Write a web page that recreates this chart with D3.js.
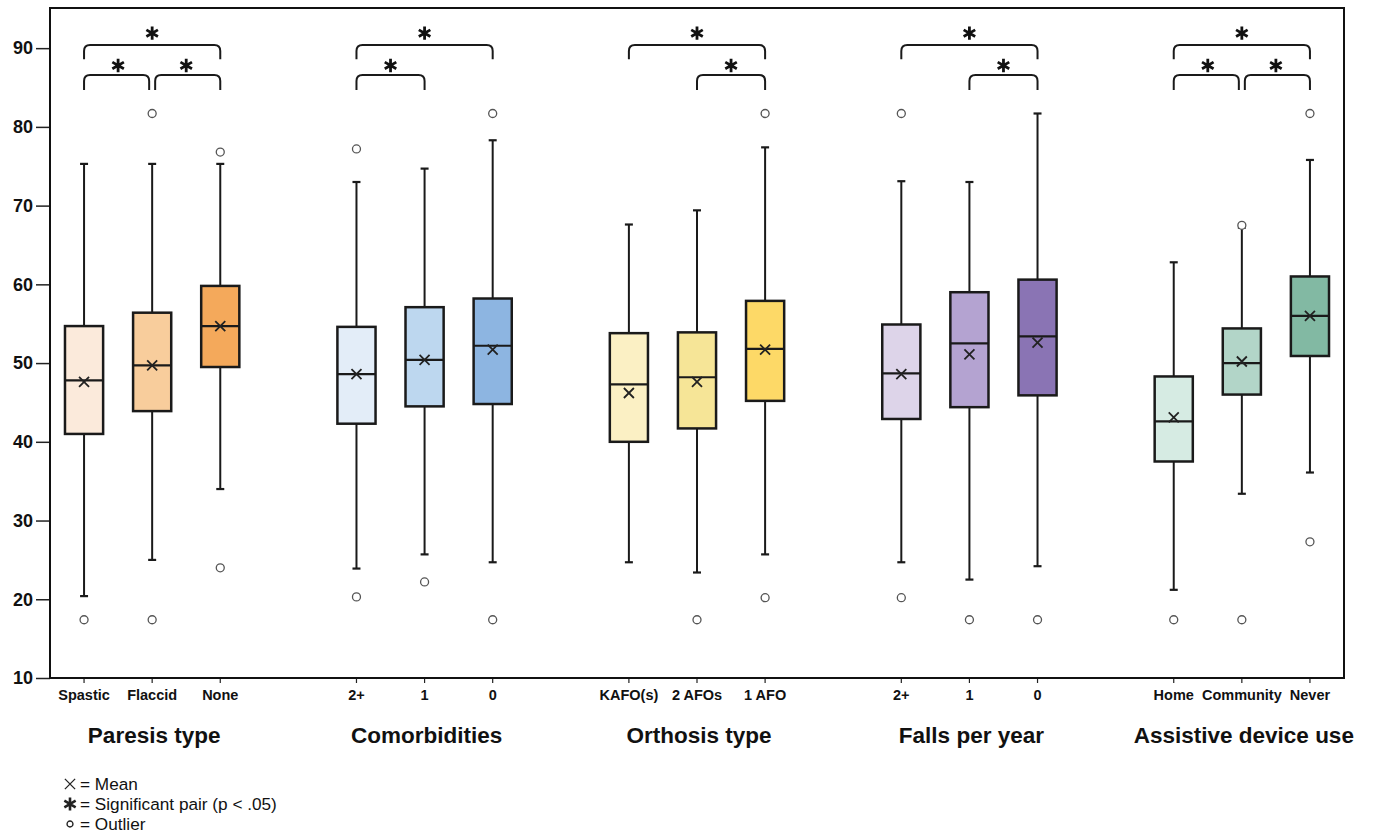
<!DOCTYPE html>
<html>
<head>
<meta charset="utf-8">
<script src="https://cdn.jsdelivr.net/npm/d3@7"></script>
<style>
    body { margin: 0; background: #fff; }
    svg { font-family: Arial, "Liberation Sans", sans-serif; }
</style>
</head>
<body>
<div id="chart"></div>
<script>
// groups and the categories inside them
var groups = ['Paresis type', 'Comorbidities', 'Orthosis type', 'Falls per year', 'Assistive device use'];
var categories = ['Spastic', 'Flaccid', 'None', '2+', '1', '0', 'KAFO(s)', '2 AFOs', '1 AFO', '2+', '1', '0', 'Home', 'Community', 'Never'];
var groupIndex = [0, 0, 0, 1, 1, 1, 2, 2, 2, 3, 3, 3, 4, 4, 4];

// box statistics
var whiskerLow  = [20.4, 25.0, 34.0, 23.9, 25.7, 24.7, 24.7, 23.4, 25.7, 24.7, 22.5, 24.2, 21.2, 33.4, 36.1];
var q1          = [41.0, 43.9, 49.5, 42.3, 44.5, 44.8, 40.0, 41.7, 45.2, 42.9, 44.4, 45.9, 37.5, 46.0, 50.9];
var median      = [47.8, 49.7, 54.7, 48.6, 50.4, 52.2, 47.3, 48.2, 51.8, 48.7, 52.5, 53.4, 42.6, 50.0, 56.0];
var q3          = [54.7, 56.4, 59.8, 54.6, 57.1, 58.2, 53.8, 53.9, 57.9, 54.9, 59.0, 60.6, 48.3, 54.4, 61.0];
var whiskerHigh = [75.3, 75.3, 75.3, 73.0, 74.7, 78.3, 67.6, 69.4, 77.4, 73.1, 73.0, 81.7, 62.8, 67.2, 75.8];
var means       = [47.6, 49.7, 54.7, 48.6, 50.4, 51.7, 46.2, 47.6, 51.7, 48.6, 51.1, 52.6, 43.1, 50.2, 56.0];
var outliers = [[17.4], [81.7, 17.4], [76.8, 24.0], [77.2, 20.3], [22.2], [81.7, 17.4], [], [17.4],
                [81.7, 20.2], [81.7, 20.2], [17.4], [17.4], [17.4], [67.5, 17.4], [81.7, 27.3]];

// significant pairs (category indexes) and bracket level (1 = upper, 2 = lower)
var pairFrom  = [0, 0, 1, 3, 3, 6, 7, 9, 10, 12, 12, 13];
var pairTo    = [2, 1, 2, 5, 4, 8, 8, 11, 11, 14, 13, 14];
var pairLevel = [1, 2, 2, 1, 2, 1, 2, 1, 2, 1, 2, 2];

var yTicks = [10, 20, 30, 40, 50, 60, 70, 80, 90];

(function(d3) {
    'use strict';

    var width = 1374,
        height = 833;

    var left = 50, right = 1344, top = 8, bottom = 678;

    var colors = ['#fbeadb', '#f8cd9c', '#f4a95b', '#e3edf8', '#bdd7ef', '#8db5e1',
                  '#fbf0c4', '#f6e597', '#fdd967', '#ddd4e9', '#b4a3d1', '#8a74b4',
                  '#d6ebe3', '#b2d5c8', '#82b9a3'];

    // one slot per category, plus an empty slot between groups
    var keys = categories.map(function(c, i) { return i; });
    var slots = [];
    keys.forEach(function(k, i) {
        if (i > 0 && groupIndex[i] !== groupIndex[i - 1]) slots.push('gap' + i);
        slots.push(k);
    });

    var x = d3.scaleBand()
        .domain(slots)
        .range([left, right]);

    var cx = function(i) { return x(i) + x.bandwidth() / 2; };

    var y = d3.scaleLinear()
        .domain([10, 95.1])
        .range([bottom, top]);

    var color = d3.scaleOrdinal().domain(keys).range(colors);

    var svg = d3.select('#chart').append('svg')
        .attr('width', width)
        .attr('height', height);

    // axes
    var yAxis = svg.append('g')
        .attr('transform', 'translate(' + left + ',0)')
        .call(d3.axisLeft(y).tickValues(yTicks).tickSize(14).tickPadding(3));
    yAxis.select('.domain').remove();
    yAxis.selectAll('line').attr('stroke', '#222').attr('stroke-width', 1.5);
    yAxis.selectAll('text')
        .attr('fill', '#111')
        .style('font-size', '18px')
        .style('font-weight', 'bold')
        .style('font-family', 'Arial, "Liberation Sans", sans-serif');

    var xAxis = svg.append('g')
        .attr('transform', 'translate(0,' + bottom + ')')
        .call(d3.axisBottom(x).tickValues(keys).tickSize(5).tickPadding(7)
            .tickFormat(function(d) { return categories[d]; }));
    xAxis.select('.domain').remove();
    xAxis.selectAll('line').attr('stroke', '#222').attr('stroke-width', 1.2);
    xAxis.selectAll('text')
        .attr('fill', '#111')
        .style('font-size', '14.5px')
        .style('font-weight', 'bold')
        .style('font-family', 'Arial, "Liberation Sans", sans-serif');

    // group titles
    svg.selectAll('.group-title')
        .data(groups)
        .enter()
        .append('text')
        .attr('class', 'group-title')
        .attr('x', function(d, g) {
            var idx = keys.filter(function(k) { return groupIndex[k] === g; });
            return cx(idx[1]) + 2;
        })
        .attr('y', 743)
        .attr('text-anchor', 'middle')
        .style('font-size', '22.5px')
        .style('font-weight', 'bold')
        .attr('fill', '#111')
        .text(function(d) { return d; });

    // boxes
    var boxW = x.bandwidth() * 0.56;
    var capW = 8;

    var box = svg.selectAll('.box')
        .data(keys)
        .enter()
        .append('g')
        .attr('class', 'box');

    box.append('line')
        .attr('x1', cx).attr('x2', cx)
        .attr('y1', function(i) { return y(whiskerLow[i]); })
        .attr('y2', function(i) { return y(whiskerHigh[i]); })
        .attr('stroke', '#1a1a1a')
        .attr('stroke-width', 2);

    [whiskerLow, whiskerHigh].forEach(function(arr) {
        box.append('line')
            .attr('x1', function(i) { return cx(i) - capW / 2; })
            .attr('x2', function(i) { return cx(i) + capW / 2; })
            .attr('y1', function(i) { return y(arr[i]); })
            .attr('y2', function(i) { return y(arr[i]); })
            .attr('stroke', '#1a1a1a')
            .attr('stroke-width', 2.2);
    });

    box.append('rect')
        .attr('x', function(i) { return cx(i) - boxW / 2; })
        .attr('y', function(i) { return y(q3[i]); })
        .attr('width', boxW)
        .attr('height', function(i) { return y(q1[i]) - y(q3[i]); })
        .attr('fill', function(i) { return color(i); })
        .attr('stroke', '#1a1a1a')
        .attr('stroke-width', 2.5);

    box.append('line')
        .attr('x1', function(i) { return cx(i) - boxW / 2; })
        .attr('x2', function(i) { return cx(i) + boxW / 2; })
        .attr('y1', function(i) { return y(median[i]); })
        .attr('y2', function(i) { return y(median[i]); })
        .attr('stroke', '#1a1a1a')
        .attr('stroke-width', 2.2);

    var times = d3.symbol().type(d3.symbolTimes).size(67);
    box.append('path')
        .attr('d', times)
        .attr('transform', function(i) { return 'translate(' + cx(i) + ',' + y(means[i]) + ')'; })
        .attr('fill', 'none')
        .attr('stroke', '#222')
        .attr('stroke-width', 1.8);

    box.selectAll('circle')
        .data(function(i) { return outliers[i].map(function(v) { return { i: i, v: v }; }); })
        .enter()
        .append('circle')
        .attr('cx', function(d) { return cx(d.i); })
        .attr('cy', function(d) { return y(d.v); })
        .attr('r', 4)
        .attr('fill', '#fff')
        .attr('stroke', '#555')
        .attr('stroke-width', 1.3);

    // significance brackets
    var levelTop = { 1: 90.4, 2: 86.6 },
        levelLeg = { 1: 88.6, 2: 84.7 },
        levelStar = { 1: 91.9, 2: 87.8 };

    var pairs = pairFrom.map(function(a, j) { return { a: a, b: pairTo[j], level: pairLevel[j] }; });

    function shared(p, k) {
        return pairs.some(function(o) {
            return o !== p && o.level === p.level && (o.a === k || o.b === k);
        });
    }

    var r = 6;
    var star = d3.symbol().type(d3.symbolAsterisk).size(125);

    var bracket = svg.selectAll('.bracket')
        .data(pairs)
        .enter()
        .append('g')
        .attr('class', 'bracket');

    bracket.append('path')
        .attr('d', function(p) {
            var x1 = cx(p.a) + (shared(p, p.a) ? 3 : 0),
                x2 = cx(p.b) - (shared(p, p.b) ? 3 : 0),
                yt = y(levelTop[p.level]),
                yl = y(levelLeg[p.level]);
            return 'M' + x1 + ',' + yl + 'L' + x1 + ',' + (yt + r) +
                'Q' + x1 + ',' + yt + ',' + (x1 + r) + ',' + yt +
                'L' + (x2 - r) + ',' + yt +
                'Q' + x2 + ',' + yt + ',' + x2 + ',' + (yt + r) +
                'L' + x2 + ',' + yl;
        })
        .attr('fill', 'none')
        .attr('stroke', '#1a1a1a')
        .attr('stroke-width', 2);

    bracket.append('path')
        .attr('d', star)
        .attr('transform', function(p) {
            return 'translate(' + ((cx(p.a) + cx(p.b)) / 2) + ',' + y(levelStar[p.level]) + ')';
        })
        .attr('fill', 'none')
        .attr('stroke', '#111')
        .attr('stroke-width', 2.8);

    // frame
    svg.append('rect')
        .attr('x', left)
        .attr('y', top)
        .attr('width', right - left)
        .attr('height', bottom - top)
        .attr('fill', 'none')
        .attr('stroke', '#111')
        .attr('stroke-width', 2);

    // legend
    var legendItems = ['= Mean', '= Significant pair (p < .05)', '= Outlier'];
    var legendTypes = ['times', 'star', 'circle'];

    var legend = svg.selectAll('.legend')
        .data(legendItems)
        .enter()
        .append('g')
        .attr('class', 'legend')
        .attr('transform', function(d, i) { return 'translate(70,' + (784 + i * 20) + ')'; });

    legend.append('path')
        .attr('d', function(d, i) {
            if (legendTypes[i] === 'times') return d3.symbol().type(d3.symbolTimes).size(70)();
            if (legendTypes[i] === 'star') return d3.symbol().type(d3.symbolAsterisk).size(120)();
            return d3.symbol().type(d3.symbolCircle).size(28)();
        })
        .attr('fill', 'none')
        .attr('stroke', '#222')
        .attr('stroke-width', function(d, i) { return legendTypes[i] === 'star' ? 2.6 : 1.3; });

    legend.append('text')
        .attr('x', 10)
        .attr('y', 6)
        .style('font-size', '17.2px')
        .attr('fill', '#111')
        .text(function(d) { return d; });

})(window.d3);
</script>
</body>
</html>
